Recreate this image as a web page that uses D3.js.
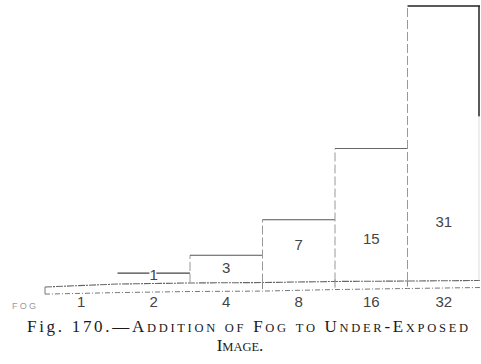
<!DOCTYPE html>
<html><head><meta charset="utf-8">
<script src="https://cdn.jsdelivr.net/npm/d3@7"></script>
<style>body{margin:0;background:#fff}</style>
</head><body><svg id="c" width="481" height="364"></svg>
<script>
// exposure categories (labels under the fog strip)
const exposures = ["1", "2", "4", "8", "16", "32"];
// density above fog for each exposure
const densities = [0, 1, 3, 7, 15, 31];
const densityLabels = ["", "1", "3", "7", "15", "31"];
// height (data units) at which each density label sits
const labelAt = [0, 0.8, 1.6, 4.2, 4.9, 6.8];
// fog strip edges (data units) at each bin boundary (strip is slightly skewed in the print)
const fogTop = [-0.56, -0.23, -0.11, -0.06, 0.06, 0.11, 0.17];
const fogBottom = [-1.36, -1.19, -1.07, -1.02, -0.85, -0.73, -0.62];
const fogLabel = "FOG";
const captionPrefix = "Fig. 170.—";
const captionLine1 = "Addition of Fog to Under-Exposed";
const captionLine2 = "Image.";

const svg = d3.select("#c");
const x = d3.scaleBand().domain(exposures).range([45, 480]).padding(0);
const y = d3.scaleLinear().domain([0, 31]).range([282, 6]);

const edges = exposures.map(e => x(e)).concat([x.range()[1]]);
const fogLine = d3.line().x((d, i) => edges[i]).y(d => y(d));

// fog strip
svg.append("path").attr("d", fogLine(fogTop)).attr("fill", "none")
  .attr("stroke", "#666").attr("stroke-width", 1.1).attr("stroke-dasharray", "7 1 2 1");
svg.append("path").attr("d", fogLine(fogBottom)).attr("fill", "none")
  .attr("stroke", "#777").attr("stroke-width", 1).attr("stroke-dasharray", "5 2 1 2");
svg.append("line").attr("x1", edges[0]).attr("x2", edges[0])
  .attr("y1", y(fogTop[0])).attr("y2", y(fogBottom[0])).attr("stroke", "#777");
// little marks at bin boundaries through the strip
[3, 4, 5].forEach(i => {
  svg.append("line").attr("x1", edges[i]).attr("x2", edges[i])
    .attr("y1", y(fogTop[i]) - 2).attr("y2", y(fogBottom[i]) - 2)
    .attr("stroke", "#888").attr("stroke-width", 1);
});

// bars (outlines)
const topColors = ["#000", "#444", "#555", "#555", "#666", "#222"];
densities.forEach((d, i) => {
  if (i === 0) return;
  const x0 = edges[i], x1 = edges[i + 1];
  // left side
  svg.append("line").attr("x1", x0).attr("x2", x0)
    .attr("y1", y(fogTop[i])).attr("y2", y(d))
    .attr("stroke", "#999").attr("stroke-width", 1).attr("stroke-dasharray", i === 1 ? "0 100" : "9 3");
  // top
  svg.append("line").attr("x1", x0).attr("x2", x1).attr("y1", y(d)).attr("y2", y(d))
    .attr("stroke", topColors[i]).attr("stroke-width", i === 5 ? 1.5 : 1.1);
  // label
  svg.append("text").attr("x", (x0 + x1) / 2).attr("y", y(labelAt[i]))
    .attr("dy", "0.35em").attr("text-anchor", "middle")
    .attr("font-family", "Liberation Sans, sans-serif").attr("font-size", 15)
    .attr("fill", "#444").attr("stroke", "#fff").attr("stroke-width", 3)
    .attr("paint-order", "stroke").text(densityLabels[i]);
});
// right edge of last bar
svg.append("line").attr("x1", edges[6] - 1).attr("x2", edges[6] - 1)
  .attr("y1", y(densities[5])).attr("y2", y(densities[5] * 0.6))
  .attr("stroke", "#222").attr("stroke-width", 1.5);
svg.append("line").attr("x1", edges[6] - 1).attr("x2", edges[6] - 1)
  .attr("y1", y(densities[5] * 0.6)).attr("y2", y(fogTop[6]))
  .attr("stroke", "#ddd").attr("stroke-width", 1);

// exposure labels
svg.selectAll("text.exp").data(exposures).join("text").attr("class", "exp")
  .attr("x", d => x(d) + x.bandwidth() / 2).attr("y", 307)
  .attr("text-anchor", "middle").attr("font-family", "Liberation Sans, sans-serif")
  .attr("font-size", 15).attr("fill", "#444").text(d => d);

svg.append("text").attr("x", 12).attr("y", 309).attr("font-family", "Liberation Sans, sans-serif")
  .attr("font-size", 9).attr("fill", "#999").attr("textLength", 24).attr("lengthAdjust", "spacing")
  .text(fogLabel);

// caption in small caps
function smallCaps(t, str, big, small) {
  const segs = [];
  for (const ch of str) {
    const cls = /[a-z]/.test(ch) ? "s" : "b";
    if (segs.length && segs[segs.length - 1].cls === cls) segs[segs.length - 1].t += ch;
    else segs.push({cls, t: ch});
  }
  segs.forEach(s => t.append("tspan").attr("font-size", s.cls === "s" ? small : big)
    .text(s.cls === "s" ? s.t.toUpperCase() : s.t));
}
const cap1 = svg.append("text").attr("x", 27).attr("y", 332)
  .attr("font-family", "Liberation Serif, serif").attr("fill", "#1a1a1a")
  .attr("textLength", 441).attr("lengthAdjust", "spacing");
cap1.append("tspan").attr("font-size", 17).text(captionPrefix);
smallCaps(cap1, captionLine1, 17, 12.5);
const cap2 = svg.append("text").attr("x", 240).attr("y", 351)
  .attr("text-anchor", "middle")
  .attr("font-family", "Liberation Serif, serif").attr("fill", "#1a1a1a");
smallCaps(cap2, captionLine2, 17, 12.5);
</script></body></html>
